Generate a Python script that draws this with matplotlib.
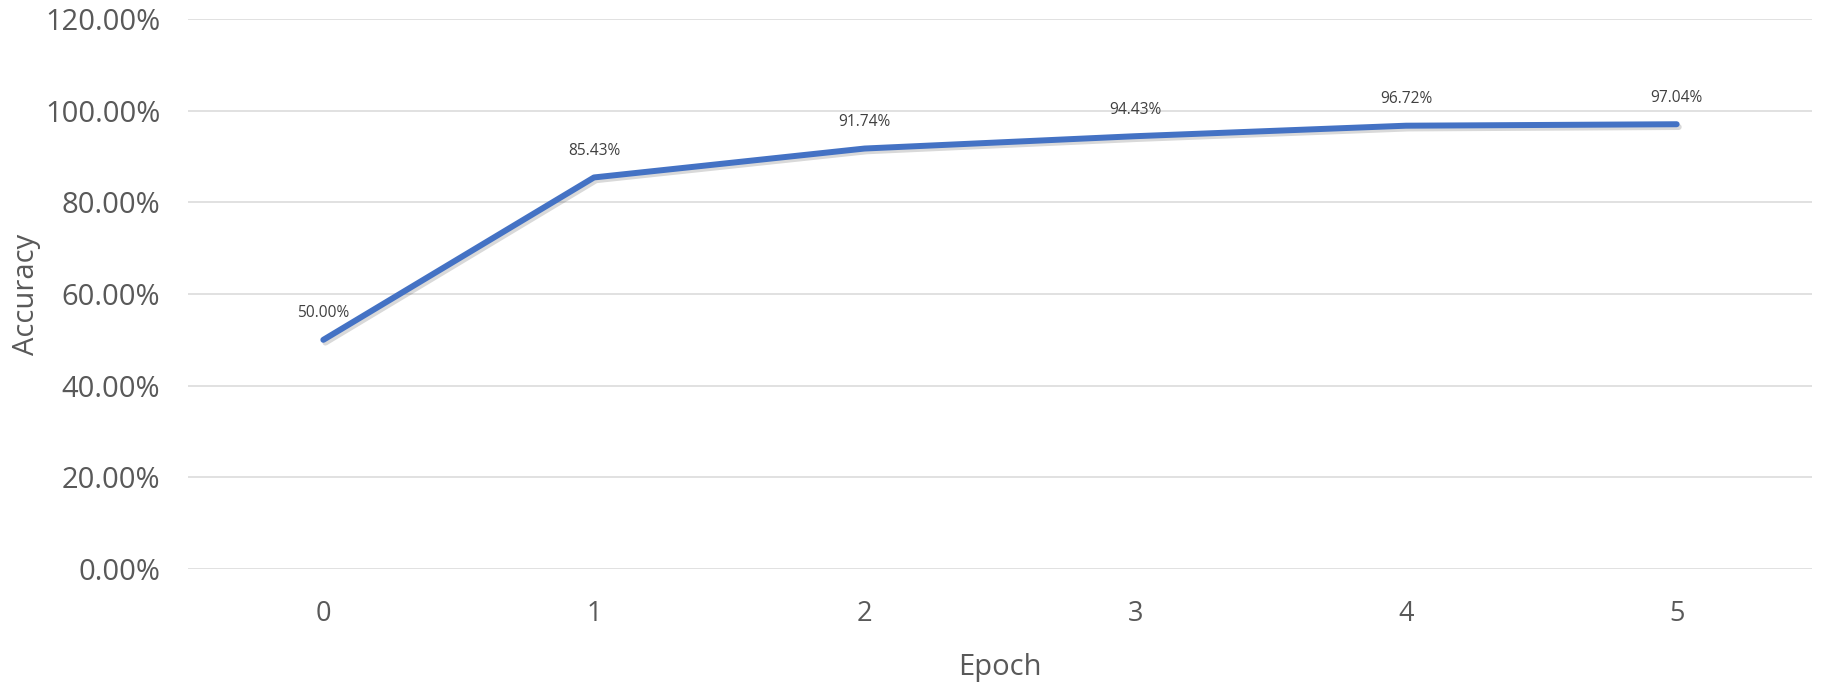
import matplotlib
matplotlib.use("Agg")
import matplotlib.pyplot as plt
import matplotlib.patheffects as pe
from matplotlib.ticker import FuncFormatter

epochs = [0, 1, 2, 3, 4, 5]
accuracy = [0.5000, 0.8543, 0.9174, 0.9443, 0.9672, 0.9704]
point_labels = ["50.00%", "85.43%", "91.74%", "94.43%", "96.72%", "97.04%"]
y_ticks = [0.0, 0.2, 0.4, 0.6, 0.8, 1.0, 1.2]

plt.rcParams['font.family'] = ['Open Sans', 'DejaVu Sans']

W, H = 1821, 683
fig = plt.figure(figsize=(W / 100, H / 100), dpi=100)
left, right, bottom, top = 188, 1812, 569, 19
ax = fig.add_axes([left / W, (H - bottom) / H, (right - left) / W, (bottom - top) / H])

ax.plot(epochs, accuracy, color="#4472C4", linewidth=4.3, solid_capstyle="round",
        solid_joinstyle="round", zorder=3,
        path_effects=[pe.SimpleLineShadow(offset=(1.5, -2), shadow_color="black", alpha=0.15),
                      pe.Normal()])

for x, y, lab in zip(epochs, accuracy, point_labels):
    ax.annotate(lab, (x, y), xytext=(0, 19), textcoords="offset points",
                ha="center", va="center", fontsize=11.2, color="#404040")

ax.set_xlim(-0.5, 5.5)
ax.set_ylim(0, 1.2)
ax.set_yticks(y_ticks)
ax.yaxis.set_major_formatter(FuncFormatter(lambda v, p: f"{v * 100:.2f}%"))
ax.set_xticks(epochs)
ax.set_xticklabels([str(e) for e in epochs])

ax.grid(axis="y", color="#d9d9d9", linewidth=1.1)
ax.set_axisbelow(True)
for s in ax.spines.values():
    s.set_visible(False)
ax.tick_params(axis="both", length=0, labelcolor="#595959", labelsize=19.5)
ax.tick_params(axis="y", pad=20, labelsize=21)
ax.tick_params(axis="x", pad=22)

ax.set_xlabel("Epoch", fontsize=21, color="#595959")
ax.set_ylabel("Accuracy", fontsize=21, color="#595959")
ax.xaxis.label.set_va("center")
ax.yaxis.label.set_va("center")
ax.xaxis.set_label_coords(0.5, (bottom - 667) / (bottom - top))
ax.yaxis.set_label_coords((27 - left) / (right - left), 0.5)

fig.savefig("out.png", dpi=100, facecolor="white")
